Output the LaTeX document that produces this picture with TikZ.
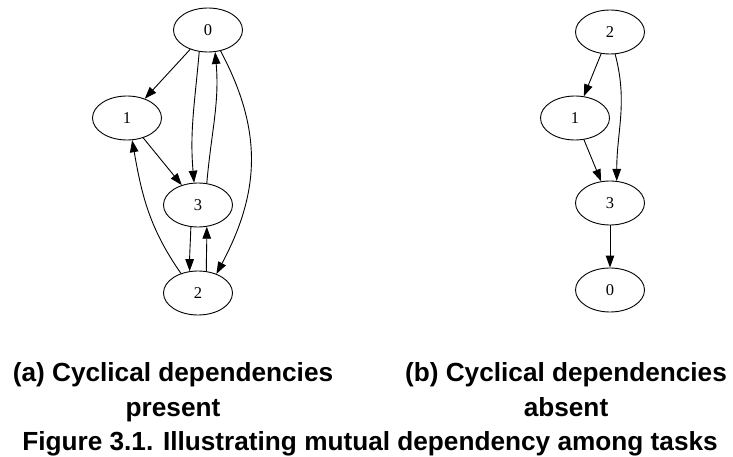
\documentclass[tikz,border=0pt]{standalone}
\usepackage{fontspec}
\setmainfont{Liberation Serif}
\newfontfamily\capfont{Liberation Sans}
\usetikzlibrary{arrows.meta,shapes.geometric}
\begin{document}
\begin{tikzpicture}[x=1pt,y=1pt,
  vert/.style={ellipse,draw,line width=0.9pt,minimum width=69pt,minimum height=44pt,inner sep=0pt,font=\fontsize{16.5}{18}\selectfont},
  arr/.style={line width=0.9pt,-{Triangle[length=12pt,width=8.5pt]}},
  captext/.style={anchor=base,inner sep=0pt,font=\capfont\bfseries\fontsize{26.2}{28}\selectfont}]
\useasboundingbox (0,0) rectangle (733,-457);
% left graph
\node[vert] (a0) at (208,-30) {0};
\node[vert] (a1) at (127,-118) {1};
\node[vert] (a3) at (198,-205) {3};
\node[vert] (a2) at (198,-293) {2};
\draw[arr] (a0) -- (a1);
\draw[arr] (a1) -- (a3);
\draw[arr] (a0.248) to[out=-95,in=95] (a3.100);
\draw[arr] (a3.68) to[out=85,in=-85] (a0.288);
\draw[arr] (a3.252) to[out=-92,in=90] (a2.111);
\draw[arr] (a2.69) to[out=90,in=-90] (a3.292);
\draw[arr] (a0.301) to[out=-62,in=62,looseness=1.05] (a2.46);
\draw[arr] (a2.131) to[out=125,in=-80] (a1.283);
% right graph
\node[vert] (b2) at (610,-32) {2};
\node[vert] (b1) at (575,-118) {1};
\node[vert] (b3) at (610,-203) {3};
\node[vert] (b0) at (610,-290) {0};
\draw[arr] (b2) -- (b1);
\draw[arr] (b1) -- (b3);
\draw[arr] (b3) -- (b0);
\draw[arr] (b2.283) to[out=-75,in=90] (b3.73);
% captions
\node[captext] (c1) at (173,-381) {(a) Cyclical dependencies};
\node[captext] (c2) at (173,-416) {present};
\node[captext] (c3) at (566,-381) {(b) Cyclical dependencies};
\node[captext] (c4) at (566,-416) {absent};
\node[captext] (c5) at (370,-450) {Figure 3.1. Illustrating mutual dependency among tasks};
\end{tikzpicture}
\end{document}
